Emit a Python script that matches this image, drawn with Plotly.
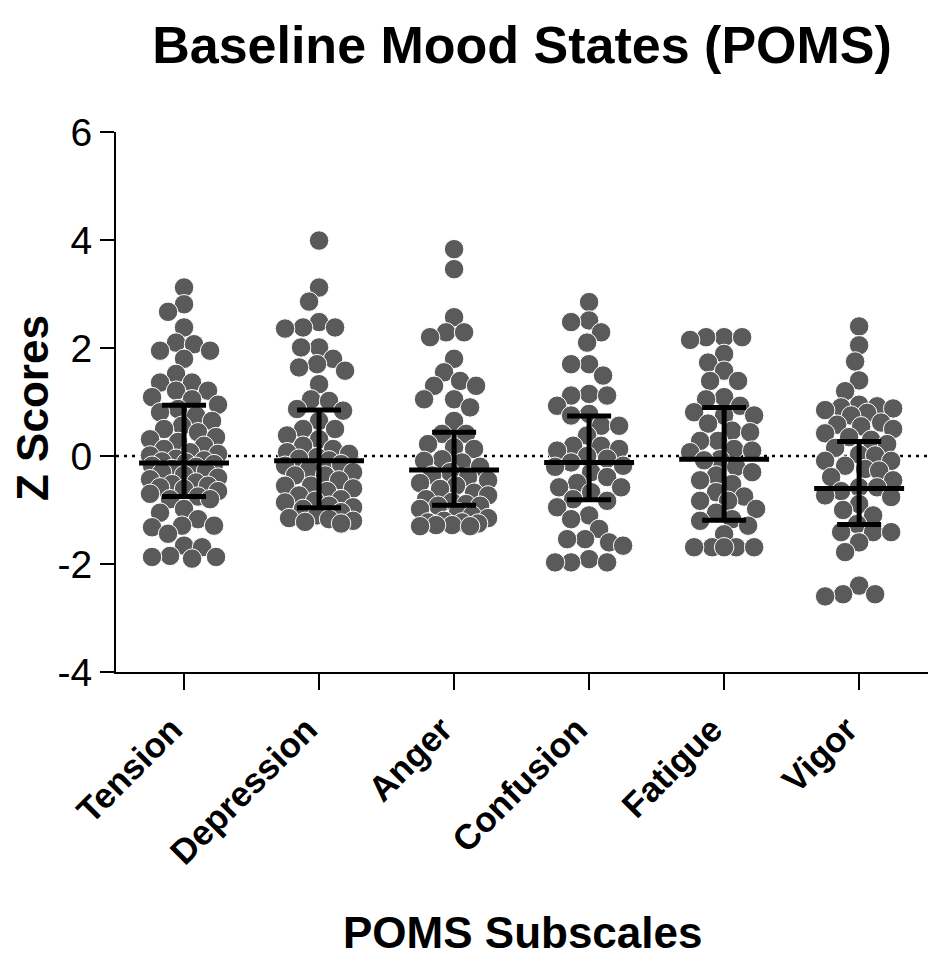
import numpy as np
import plotly.graph_objects as go

subscales = ["Tension", "Depression", "Anger", "Confusion", "Fatigue", "Vigor"]

tension = [3.12, 2.81, 2.67, 2.38, 2.10, 2.07, 1.95, 1.95, 1.80, 1.52, 1.36,
           1.36, 1.21, 1.21, 1.09, 1.05, 0.95, 0.87, 0.81, 0.75, 0.65, 0.56,
           0.50, 0.44, 0.35, 0.31, 0.26, 0.19, 0.13, 0.07, 0.04, 0.01, -0.05,
           -0.08, -0.10, -0.12, -0.15, -0.18, -0.20, -0.24, -0.28, -0.30,
           -0.35, -0.40, -0.43, -0.49, -0.52, -0.55, -0.58, -0.61, -0.65,
           -0.70, -0.75, -0.80, -0.80, -0.98, -1.05, -1.17, -1.29, -1.29,
           -1.32, -1.44, -1.66, -1.69, -1.85, -1.87, -1.87, -1.90]
depression = [3.99, 3.12, 2.86, 2.48, 2.38, 2.38, 2.36, 2.01, 2.01, 1.80,
              1.70, 1.64, 1.58, 1.33, 1.05, 1.02, 0.87, 0.84, 0.65, 0.50,
              0.50, 0.38, 0.31, 0.19, 0.13, 0.07, 0.04, -0.02, -0.05, -0.08,
              -0.15, -0.18, -0.25, -0.30, -0.36, -0.36, -0.45, -0.55, -0.55,
              -0.60, -0.65, -0.73, -0.80, -0.83, -0.86, -0.92, -0.95, -0.98,
              -1.04, -1.10, -1.15, -1.17, -1.20, -1.22, -1.25]
anger = [3.83, 3.46, 2.57, 2.29, 2.29, 2.20, 1.80, 1.55, 1.39, 1.30, 1.30,
         1.05, 1.05, 0.90, 0.65, 0.41, 0.41, 0.22, 0.16, 0.13, -0.06, -0.09,
         -0.12, -0.20, -0.30, -0.36, -0.39, -0.45, -0.50, -0.55, -0.61,
         -0.68, -0.73, -0.80, -0.85, -0.89, -0.92, -0.92, -0.98, -1.04,
         -1.10, -1.15, -1.20, -1.23, -1.23, -1.25, -1.28, -1.28, -1.30, -1.30]
confusion = [2.85, 2.51, 2.48, 2.29, 2.10, 1.70, 1.70, 1.49, 1.15, 1.12, 1.12,
             0.93, 0.78, 0.75, 0.56, 0.56, 0.38, 0.19, 0.19, 0.13, 0.10, 0.00,
             -0.05, -0.12, -0.18, -0.20, -0.30, -0.39, -0.50, -0.58, -0.58,
             -0.67, -0.80, -0.83, -0.95, -1.10, -1.17, -1.35, -1.54, -1.54,
             -1.60, -1.66, -1.91, -1.97, -1.97, -1.97]
fatigue = [2.20, 2.20, 2.20, 2.15, 1.89, 1.73, 1.58, 1.39, 1.39, 1.09, 1.05,
           0.93, 0.81, 0.75, 0.75, 0.60, 0.47, 0.44, 0.28, 0.28, 0.13, 0.10,
           0.07, -0.06, -0.08, -0.20, -0.30, -0.36, -0.45, -0.52, -0.67,
           -0.75, -0.83, -0.83, -0.98, -1.05, -1.17, -1.20, -1.29, -1.45,
           -1.69, -1.69, -1.69, -1.69, -1.69]
vigor = [2.40, 2.05, 1.75, 1.40, 1.20, 0.95, 0.92, 0.90, 0.88, 0.85, 0.80,
         0.75, 0.62, 0.58, 0.55, 0.50, 0.42, 0.35, 0.30, 0.22, 0.15, 0.03,
         0.01, -0.09, -0.09, -0.18, -0.24, -0.27, -0.39, -0.45, -0.58, -0.58,
         -0.65, -0.73, -0.76, -0.89, -1.00, -1.10, -1.26, -1.41, -1.41,
         -1.41, -1.60, -1.78, -2.40, -2.56, -2.56, -2.60]

# median with interquartile range
medians = [-0.13, -0.09, -0.26, -0.12, -0.06, -0.60]
upper_q = [0.94, 0.85, 0.44, 0.74, 0.90, 0.27]
lower_q = [-0.75, -0.96, -0.91, -0.81, -1.19, -1.27]

y_ticks = [-4, -2, 0, 2, 4, 6]
y_tick_text = ["-4", "-2", "0", "2", "4", "6"]

groups = [tension, depression, anger, confusion, fatigue, vigor]

PX_Y = 54.0    # pixels per y unit
PX_X = 135.0   # pixels per category
DIAM = 19.5


def swarm_offsets(values, max_off=34.0):
    """GraphPad-like scatter: nudge each dot sideways until it fits."""
    values = np.asarray(values, dtype=float)
    cands = sorted(np.arange(-max_off, max_off + 0.1, 2.0), key=abs)
    placed = []
    offsets = np.zeros(len(values))
    for i in np.argsort(-values):
        y = values[i] * PX_Y
        best, best_d = 0.0, -1.0
        for c in cands:
            d = min((np.hypot(c - px, y - py) for px, py in placed),
                    default=1e9)
            if d >= DIAM * 0.85:
                best = c
                break
            if d > best_d:
                best, best_d = c, d
        placed.append((best, y))
        offsets[i] = best / PX_X
    return offsets


fig = go.Figure()

fig.add_hline(y=0, line=dict(color="black", width=2.5, dash="3px,5px"),
              layer="below")

for k, vals in enumerate(groups):
    fig.add_trace(go.Scatter(
        x=k + swarm_offsets(vals), y=vals, mode="markers",
        marker=dict(size=DIAM, color="rgb(90,90,90)",
                    line=dict(color="white", width=1)),
        showlegend=False, hoverinfo="y"))

lx, ly = [], []
for k in range(len(subscales)):
    lx += [k - 0.333, k + 0.333, None,
           k - 0.163, k + 0.163, None,
           k - 0.163, k + 0.163, None,
           k, k, None]
    ly += [medians[k], medians[k], None,
           upper_q[k], upper_q[k], None,
           lower_q[k], lower_q[k], None,
           lower_q[k], upper_q[k], None]
fig.add_trace(go.Scatter(x=lx, y=ly, mode="lines",
                         line=dict(color="black", width=5),
                         showlegend=False, hoverinfo="skip"))

font = "Liberation Sans, Arial, sans-serif"
# page body adds an 8px offset, so margins are trimmed by 8
fig.update_layout(
    width=939, height=962,
    margin=dict(l=108, r=19, t=124, b=298),
    plot_bgcolor="white", paper_bgcolor="white",
    font=dict(family=font, color="black"),
    title=dict(text="<b>Baseline Mood States (POMS)</b>",
               font=dict(size=52, family=font, color="black"),
               x=0.5, xref="paper", xanchor="center",
               y=1 - 37 / 962, yref="container", yanchor="middle"),
    xaxis=dict(range=[-0.504, 5.51], tickvals=list(range(len(subscales))),
               ticktext=subscales, tickangle=-45,
               tickfont=dict(size=35, family=font, weight="bold"),
               ticklabelshift=-12, ticklabelstandoff=5,
               ticks="outside", ticklen=16, tickwidth=2, tickcolor="black",
               showline=True, linewidth=2, linecolor="black",
               showgrid=False, zeroline=False),
    yaxis=dict(range=[-4, 6], tickvals=y_ticks, ticktext=y_tick_text,
               tickfont=dict(size=39, family=font),
               ticks="outside", ticklen=14, tickwidth=2, tickcolor="black",
               showline=True, linewidth=2, linecolor="black",
               showgrid=False, zeroline=False),
    annotations=[
        dict(text="<b>Z Scores</b>", textangle=-90,
             x=(32 - 116) / 812, xref="paper", xanchor="center",
             y=(672 - 408) / 540, yref="paper", yanchor="middle",
             showarrow=False, font=dict(size=44, family=font)),
        dict(text="<b>POMS Subscales</b>",
             x=(522 - 116) / 812, xref="paper", xanchor="center",
             y=(672 - 932) / 540, yref="paper", yanchor="middle",
             showarrow=False, font=dict(size=44, family=font)),
    ],
)

fig.write_html("out.html")
